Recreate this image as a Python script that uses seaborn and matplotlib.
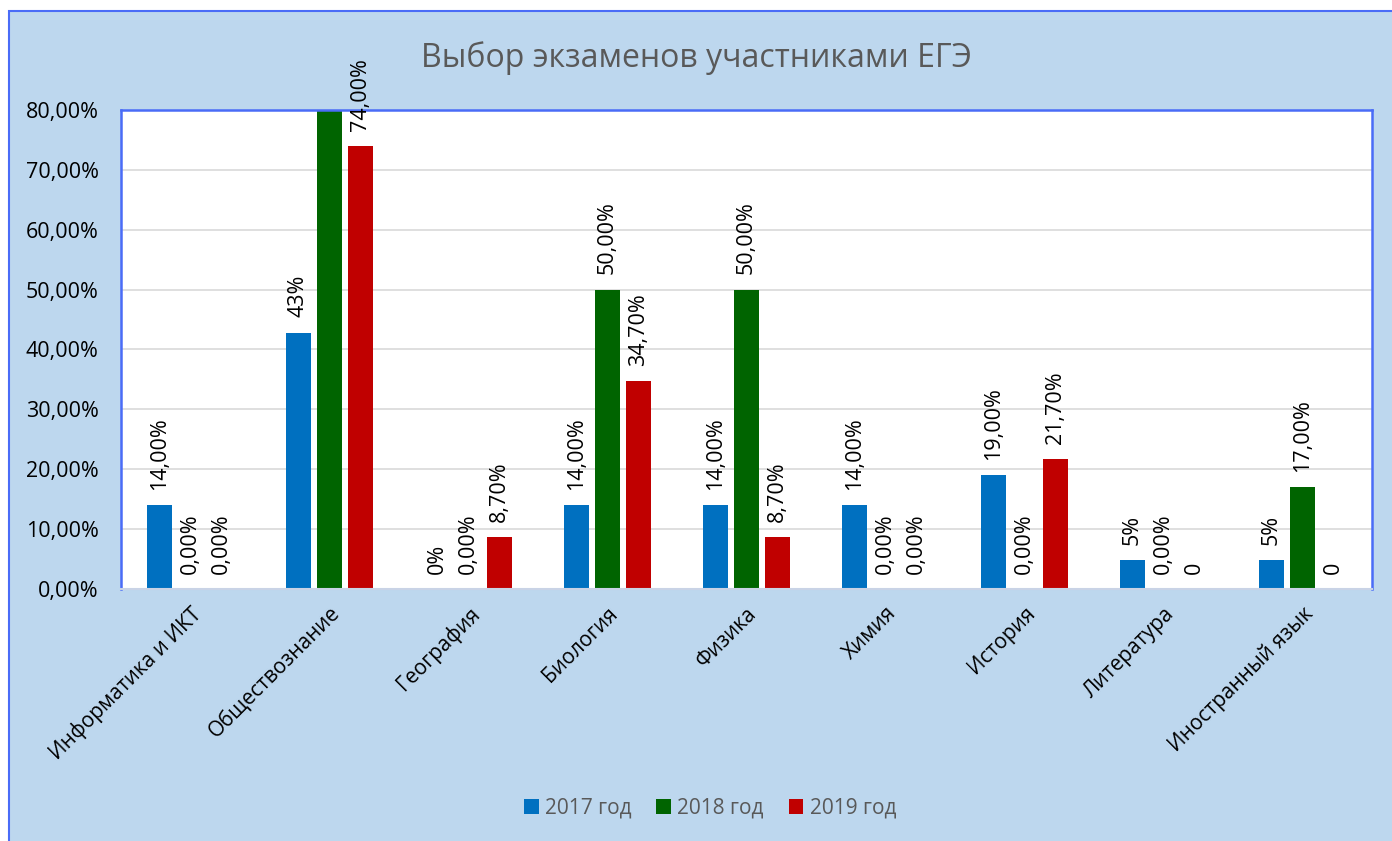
import matplotlib
matplotlib.use('Agg')
import matplotlib.pyplot as plt
from matplotlib.patches import Rectangle
from matplotlib.ticker import FuncFormatter
import pandas as pd
import seaborn as sns

subjects = ['Информатика и ИКТ', 'Обществознание', 'География', 'Биология',
            'Физика', 'Химия', 'История', 'Литература', 'Иностранный язык']
years = ['2017 год', '2018 год', '2019 год']

vals_2017 = [14.0, 42.8, 0.0, 14.0, 14.0, 14.0, 19.0, 4.8, 4.8]
vals_2018 = [0.0, 86.0, 0.0, 50.0, 50.0, 0.0, 0.0, 0.0, 17.0]
vals_2019 = [0.0, 74.0, 8.7, 34.7, 8.7, 0.0, 21.7, 0.0, 0.0]

labels_2017 = ['14,00%', '43%', '0%', '14,00%', '14,00%', '14,00%', '19,00%', '5%', '5%']
labels_2018 = ['0,00%', '86,00%', '0,00%', '50,00%', '50,00%', '0,00%', '0,00%', '0,00%', '17,00%']
labels_2019 = ['0,00%', '74,00%', '8,70%', '34,70%', '8,70%', '0,00%', '21,70%', '0', '0']

pal_use = {'2017 год': '#0070C0', '2018 год': '#006400', '2019 год': '#C00000'}
bg = '#BDD7EE'
ymax = 80

df = pd.DataFrame({
    'subject': subjects * 3,
    'year': [y for y in years for _ in subjects],
    'value': vals_2017 + vals_2018 + vals_2019,
})

sns.set_style('white')
plt.rcParams['font.family'] = ['Open Sans', 'DejaVu Sans']

fig = plt.figure(figsize=(13.92, 8.41), dpi=100, facecolor='white')
fig.patches.append(Rectangle((9 / 1392, -0.05), 1.1, 1 - 11 / 841 + 0.05,
                             transform=fig.transFigure, facecolor=bg,
                             edgecolor='#4A6CF7', linewidth=1.5, zorder=-10))

ax = fig.add_axes([121 / 1392, 1 - 589 / 841, 1251 / 1392, 479 / 841])
ax.set_zorder(1)
sns.barplot(data=df, x='subject', y='value', hue='year', palette=pal_use,
            width=0.67, gap=0.22, saturation=1, linewidth=0, ax=ax, legend=True)

ax.set_ylim(0, ymax)
ax.set_yticks(range(0, 81, 10))
ax.yaxis.set_major_formatter(FuncFormatter(lambda v, p: ('%.2f%%' % v).replace('.', ',')))
ax.grid(axis='y', color='#D9D9D9', linewidth=1.2)
ax.set_axisbelow(True)
ax.set_facecolor('white')
for side in ['top', 'left', 'right']:
    ax.spines[side].set_color('#4A6CF7')
    ax.spines[side].set_linewidth(1.8)
ax.spines['bottom'].set_color('#C9D3E6')
ax.spines['bottom'].set_linewidth(1.5)

ax.tick_params(axis='both', length=0, labelsize=15.5, colors='black')
ax.tick_params(axis='y', pad=16)
ax.tick_params(axis='x', pad=10)
for tick in ax.get_xticklabels():
    tick.set_rotation(45)
    tick.set_ha('right')
    tick.set_va('top')
    tick.set_rotation_mode('anchor')
    tick.set_fontsize(15)
ax.set_xlabel('')
ax.set_ylabel('')

all_vals = [vals_2017, vals_2018, vals_2019]
all_labels = [labels_2017, labels_2018, labels_2019]
for cont, vals, labs in zip(ax.containers, all_vals, all_labels):
    shown = [l if v <= ymax else '' for v, l in zip(vals, labs)]
    ax.bar_label(cont, labels=shown, rotation=90, padding=11, fontsize=15.5,
                 color='black', clip_on=False)

fig.text(0.5, 1 - 58 / 841, 'Выбор экзаменов участниками ЕГЭ', ha='center', va='center',
         fontsize=23, color='#595959')

handles, labels = ax.get_legend_handles_labels()
for h in handles:
    h.set_edgecolor('none')
ax.legend_.remove()
fig.legend(handles, labels, loc='center', bbox_to_anchor=(710 / 1392, 1 - 808 / 841),
           ncol=3, frameon=False, fontsize=15, labelcolor='#595959',
           handlelength=0.7, handleheight=0.7, handletextpad=0.3, columnspacing=1.2)

fig.savefig('out.png', dpi=100, facecolor=fig.get_facecolor())
